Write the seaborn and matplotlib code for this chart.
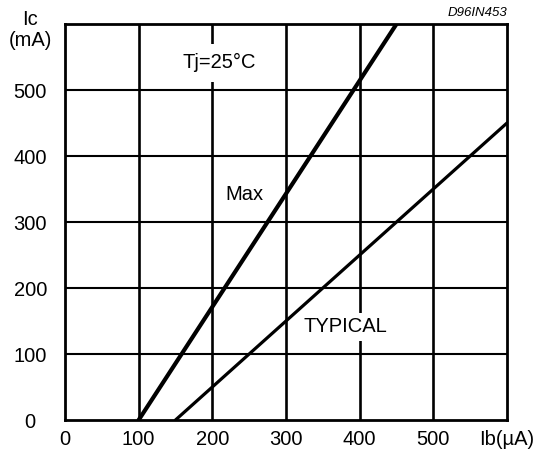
import matplotlib
matplotlib.use("Agg")
import matplotlib.pyplot as plt
import seaborn as sns
import pandas as pd

# Data
ib_max = [100, 450]
ic_max = [0, 600]
ib_typ = [150, 600]
ic_typ = [0, 450]
x_ticks = [0, 100, 200, 300, 400, 500, 600]
x_tick_labels = ["0", "100", "200", "300", "400", "500", "Ib(\u00b5A)"]
y_ticks = [0, 100, 200, 300, 400, 500]
y_tick_labels = ["0", "100", "200", "300", "400", "500"]

sns.set_style("white")
plt.rcParams['font.family'] = ['Liberation Sans', 'DejaVu Sans']
plt.rcParams['text.color'] = 'black'
plt.rcParams['xtick.color'] = 'black'
plt.rcParams['ytick.color'] = 'black'
plt.rcParams['xtick.labelcolor'] = 'black'
plt.rcParams['ytick.labelcolor'] = 'black'

FS = 14.5

df = pd.concat([
    pd.DataFrame({"Ib": ib_max, "Ic": ic_max, "curve": "Max"}),
    pd.DataFrame({"Ib": ib_typ, "Ic": ic_typ, "curve": "TYPICAL"}),
])

fig = plt.figure(figsize=(5.39, 4.53), dpi=100)
ax = fig.add_axes([65/539, 1 - 420/453, 442/539, 396/453])

# grid
for xv in [100, 200, 300, 400, 500]:
    ax.axvline(xv, color="black", lw=1.9, zorder=1)
for yv in [100, 200, 300, 400, 500]:
    ax.axhline(yv, color="black", lw=1.5, zorder=1)

sns.lineplot(data=df[df.curve == "Max"], x="Ib", y="Ic", color="black",
             lw=3.0, ax=ax, zorder=3, legend=False)
sns.lineplot(data=df[df.curve == "TYPICAL"], x="Ib", y="Ic", color="black",
             lw=2.3, ax=ax, zorder=3, legend=False)

ax.set_xlim(0, 600)
ax.set_ylim(0, 600)
ax.set_xlabel("")
ax.set_ylabel("")

ax.set_xticks(x_ticks)
ax.set_xticklabels(x_tick_labels, fontsize=FS, color="black")
ax.set_yticks(y_ticks)
ax.set_yticklabels(y_tick_labels, fontsize=FS, ha="center", color="black")
ax.tick_params(axis="x", length=0, pad=7)
ax.tick_params(axis="y", length=0, pad=25)

for sp in ax.spines.values():
    sp.set_visible(True)
    sp.set_color("black")
    sp.set_linewidth(2.0)

ax.text(210, 541, "Tj=25\u00b0C", fontsize=FS, ha="center", va="center",
        color="black", zorder=4,
        bbox=dict(facecolor="white", edgecolor="none", pad=7))
ax.text(381, 141, "TYPICAL", fontsize=FS, ha="center", va="center",
        color="black", zorder=4,
        bbox=dict(facecolor="white", edgecolor="none", pad=3))
ax.text(244, 341, "Max", fontsize=FS, ha="center", va="center",
        color="black", zorder=4)

ax.text(-35/442, (420 - 30)/396, "Ic\n(mA)", fontsize=FS, ha="center",
        va="center", color="black", transform=ax.transAxes,
        linespacing=1.15, clip_on=False)
ax.text(1.0, (420 - 13)/396, "D96IN453", fontsize=9.5, style="italic",
        color="black", ha="right", va="center", transform=ax.transAxes,
        clip_on=False)

fig.savefig("out.png", dpi=100)
